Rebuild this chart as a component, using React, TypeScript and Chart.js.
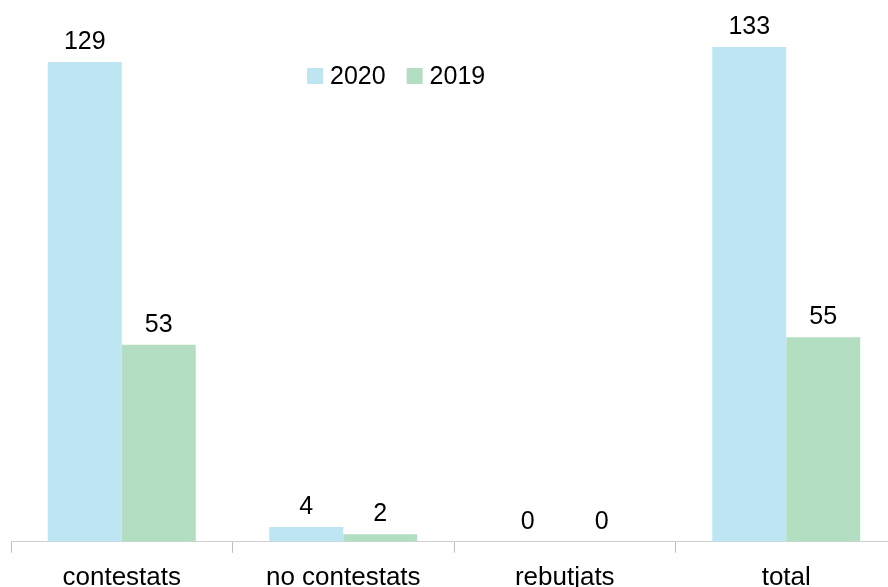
import React, { useEffect, useRef } from "react";
import { Chart, registerables } from "chart.js";

Chart.register(...registerables);

const categories = ["contestats", "no contestats", "rebutjats", "total"];
const series2020 = [129, 4, 0, 133];
const series2019 = [53, 2, 0, 55];
const seriesLabels = ["2020", "2019"];
const seriesColors = ["#BDE5F2", "#B3DEC2"];

const FONT = "'Liberation Sans', Arial, sans-serif";

const valueLabels = {
  id: "valueLabels",
  afterDatasetsDraw(chart: any) {
    const ctx = chart.ctx;
    ctx.save();
    ctx.font = `25px ${FONT}`;
    ctx.fillStyle = "#000";
    ctx.textAlign = "center";
    ctx.textBaseline = "alphabetic";
    chart.data.datasets.forEach((ds: any, i: number) => {
      const meta = chart.getDatasetMeta(i);
      meta.data.forEach((el: any, j: number) => {
        ctx.fillText(String(ds.data[j]), el.x, el.y - 13);
      });
    });
    ctx.restore();
  },
};

const customLegend = {
  id: "customLegend",
  afterDraw(chart: any) {
    const ctx = chart.ctx;
    ctx.save();
    ctx.font = `25px ${FONT}`;
    ctx.textBaseline = "middle";
    ctx.textAlign = "left";
    let x = 307;
    const y = 76;
    chart.data.datasets.forEach((ds: any) => {
      ctx.fillStyle = ds.backgroundColor;
      ctx.fillRect(x, y - 8, 16, 16);
      ctx.fillStyle = "#000";
      ctx.fillText(ds.label, x + 23, y + 1);
      const w = ctx.measureText(ds.label).width;
      x += 23 + w + 21;
    });
    ctx.restore();
  },
};

export default function App() {
  const ref = useRef<HTMLCanvasElement>(null);
  useEffect(() => {
    if (!ref.current) return;
    const chart = new Chart(ref.current, {
      type: "bar",
      data: {
        labels: categories,
        datasets: [
          { label: seriesLabels[0], data: series2020, backgroundColor: seriesColors[0] },
          { label: seriesLabels[1], data: series2019, backgroundColor: seriesColors[1] },
        ],
      },
      options: {
        animation: false,
        responsive: false,
        maintainAspectRatio: false,
        layout: { padding: { left: 11, right: 3, top: 21, bottom: 0 } },
        plugins: {
          legend: { display: false },
          tooltip: { enabled: false },
        },
        datasets: {
          bar: { categoryPercentage: 0.668, barPercentage: 1 },
        },
        scales: {
          x: {
            offset: true,
            grid: {
              offset: true,
              drawOnChartArea: false,
              drawTicks: true,
              tickLength: 11,
              color: "#BFBFBF",
              lineWidth: 1,
            },
            border: { display: true, color: "#D0D0D0", width: 1 },
            ticks: {
              color: "#000",
              font: { family: FONT, size: 26 },
              padding: 9,
              maxRotation: 0,
              autoSkip: false,
            },
          },
          y: {
            display: false,
            min: 0,
            max: 140,
          },
        },
      },
      plugins: [valueLabels, customLegend],
    });
    return () => chart.destroy();
  }, []);
  return (
    <div style={{ position: "absolute", left: 0, top: 0, width: 888, height: 587, overflow: "hidden" }}>
      <canvas ref={ref} width={900} height={602} style={{ display: "block" }} />
    </div>
  );
}
